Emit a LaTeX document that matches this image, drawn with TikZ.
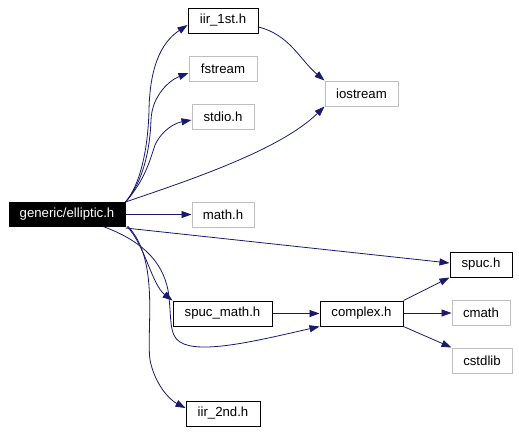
\documentclass[tikz,border=0pt]{standalone}
\usepackage{fontspec}
\setmainfont{Liberation Sans}
\usetikzlibrary{arrows.meta}
\definecolor{edgeblue}{HTML}{191970}
\definecolor{boxgray}{HTML}{BFBFBF}
\begin{document}
\begin{tikzpicture}[x=1pt,y=-1pt,
  hbox/.style={draw=black,line width=1pt,fill=white,inner sep=0pt,minimum height=25pt,font=\fontsize{13.2}{15}\selectfont,text=black},
  gbox/.style={hbox,draw=boxgray},
  rootbox/.style={hbox,fill=black,text=white,minimum height=24pt},
  dep/.style={draw=edgeblue,line width=0.8pt,-{Triangle[length=10pt,width=7pt]}}]
\useasboundingbox (0,0) rectangle (519,431);
\node[rootbox,minimum width=116pt] (ell) at (67,214.5) {generic/elliptic.h};
\node[hbox,minimum width=70pt] (iir1) at (223,20.5) {iir\_1st.h};
\node[gbox,minimum width=68pt] (fstream) at (223,68.5) {fstream};
\node[gbox,minimum width=62pt] (stdio) at (223,116.5) {stdio.h};
\node[gbox,minimum width=62pt] (math) at (223,214.5) {math.h};
\node[gbox,minimum width=73pt] (iostream) at (361.5,93.5) {iostream};
\node[hbox,minimum width=62pt] (spuc) at (481,264.5) {spuc.h};
\node[hbox,minimum width=99pt] (spucmath) at (222.5,313.5) {spuc\_math.h};
\node[hbox,minimum width=83pt] (complex) at (361.5,313.5) {complex.h};
\node[gbox,minimum width=58pt] (cmath) at (481,312.5) {cmath};
\node[gbox,minimum width=60pt] (cstdlib) at (482,360.5) {cstdlib};
\node[hbox,minimum width=74pt] (iir2) at (223,413.5) {iir\_2nd.h};
% root edges
\draw[dep] (ell.north east) .. controls (140,185) and (148,150) .. (149,110) .. controls (150,60) and (165,40) .. (iir1.west |- 0,25);
\draw[dep] (ell.north east) .. controls (143,182) and (150,150) .. (151,120) .. controls (152,95) and (170,80) .. (fstream.west |- 0,73);
\draw[dep] (ell.north east) .. controls (145,180) and (150,160) .. (155,145) .. controls (162,130) and (175,123) .. (stdio.west |- 0,120);
\draw[dep] (ell.north east) .. controls (190,180) and (280,150) .. (iostream.south west);
\draw[dep] (ell.east) -- (math.west);
\draw[dep] (ell.east |- 0,228) -- (spuc.west |- 0,263);
\draw[dep] (127,226.5) .. controls (145,245) and (152,285) .. (spucmath.north west);
\draw[dep] (103,226.5) .. controls (140,240) and (162,260) .. (168,290) .. controls (172,315) and (168,335) .. (180,342) .. controls (200,355) and (260,340) .. (complex.south west);
\draw[dep] (128,226.5) .. controls (160,260) and (146,330) .. (150,360) .. controls (155,385) and (170,400) .. (iir2.west |- 0,408);
% others
\draw[dep] (iir1.east |- 0,27) .. controls (290,35) and (300,60) .. (iostream.north west);
\draw[dep] (spucmath.east) -- (complex.west);
\draw[dep] (complex.north east) -- (spuc.south west);
\draw[dep] (complex.east |- 0,313) -- (cmath.west |- 0,313);
\draw[dep] (complex.south east) -- (cstdlib.north west);
\end{tikzpicture}
\end{document}
